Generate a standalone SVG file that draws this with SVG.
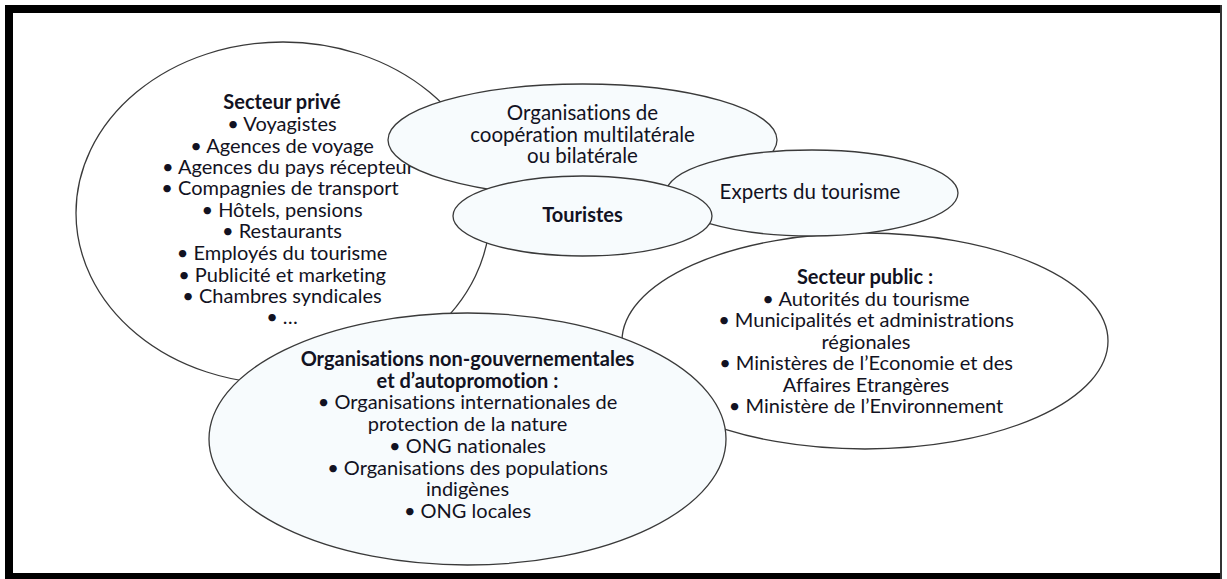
<svg xmlns="http://www.w3.org/2000/svg" width="1227" height="579" viewBox="0 0 1227 579">
<style>
.e{stroke:#3a3a3a;stroke-width:1.3}
.w{fill:#ffffff}
.b{fill:#f7fbfd}
text{font-family:Lato,"Open Sans","Liberation Sans",sans-serif;font-size:20px;fill:#121222;text-anchor:middle;font-variant-ligatures:none;font-feature-settings:"liga" 0}
.t{font-weight:bold}
.m{font-size:20.5px}
</style>
<rect x="0" y="0" width="1227" height="579" fill="#ffffff"/>
<g id="frame">
<rect x="5" y="5" width="1217" height="8" fill="#000"/>
<rect x="5" y="5" width="8" height="574" fill="#000"/>
<rect x="5" y="573" width="1217" height="6" fill="#000"/>
<rect x="1220" y="5" width="2" height="574" fill="#333"/>
</g>
<g id="connectors"></g>
<g id="secteur-prive">
<ellipse class="e w" cx="283" cy="213" rx="207" ry="171"/>
<text class="t" x="282" y="109">Secteur privé</text>
<text x="282" y="131">• Voyagistes</text>
<text x="282" y="153">• Agences de voyage</text>
<text x="288" y="174">• Agences du pays récepteur</text>
<text x="280" y="195">• Compagnies de transport</text>
<text x="282" y="217">• Hôtels, pensions</text>
<text x="282" y="238">• Restaurants</text>
<text x="282" y="260">• Employés du tourisme</text>
<text x="282" y="282">• Publicité et marketing</text>
<text x="282" y="303">• Chambres syndicales</text>
<text x="282" y="324">• …</text>
</g>
<g id="secteur-public">
<ellipse class="e w" cx="865" cy="341" rx="243" ry="108"/>
<text class="t" x="865" y="284">Secteur public :</text>
<text x="866" y="305.5">• Autorités du tourisme</text>
<text x="866" y="327">• Municipalités et administrations</text>
<text x="866" y="348.5">régionales</text>
<text x="866" y="370">• Ministères de l’Economie et des</text>
<text x="866" y="391.5">Affaires Etrangères</text>
<text x="866" y="413">• Ministère de l’Environnement</text>
</g>
<g id="cooperation">
<ellipse class="e b" cx="582.5" cy="140" rx="194.5" ry="56"/>
<text class="m" x="582.5" y="120">Organisations de</text>
<text class="m" x="582.5" y="142">coopération multilatérale</text>
<text class="m" x="582.5" y="163">ou bilatérale</text>
</g>
<g id="experts">
<ellipse class="e b" cx="812" cy="193" rx="146" ry="43"/>
<text class="m" x="810" y="199">Experts du tourisme</text>
</g>
<g id="touristes">
<ellipse class="e b" cx="582.5" cy="216" rx="129.5" ry="40"/>
<text class="t" x="582.5" y="222">Touristes</text>
</g>
<g id="ong">
<ellipse class="e b" cx="467.5" cy="439" rx="258.5" ry="126"/>
<text class="t" x="467.5" y="366">Organisations non-gouvernementales</text>
<text class="t" x="467.5" y="387.7">et d’autopromotion :</text>
<text x="467.5" y="409.4">• Organisations internationales de</text>
<text x="467.5" y="431.1">protection de la nature</text>
<text x="467.5" y="452.8">• ONG nationales</text>
<text x="467.5" y="474.5">• Organisations des populations</text>
<text x="467.5" y="496.2">indigènes</text>
<text x="467.5" y="517.9">• ONG locales</text>
</g>
</svg>
